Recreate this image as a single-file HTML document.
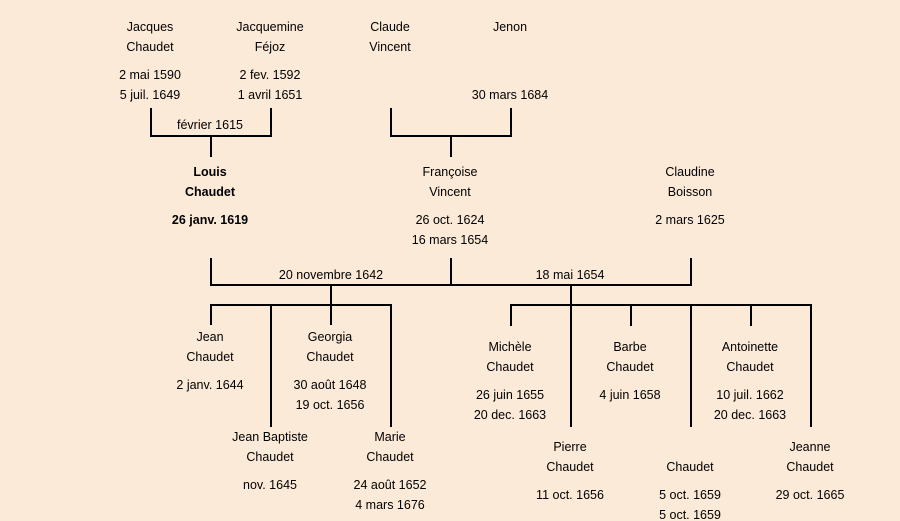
<!DOCTYPE html>
<html><head><meta charset="utf-8"><style>
html,body{margin:0;padding:0;background:#fcead8;}
svg{display:block}
text{font-family:"Liberation Sans",sans-serif;font-size:12.5px;fill:#000;text-anchor:middle;dominant-baseline:central}
.b{font-weight:bold}
line{stroke:#000;stroke-width:2}
</style></head><body>
<svg width="900" height="521" viewBox="0 0 900 521">
<rect width="900" height="521" fill="#fcead8"/>
<!-- lines -->
<line x1="151" y1="108" x2="151" y2="137"/><line x1="150" y1="136" x2="272" y2="136"/><line x1="271" y1="108" x2="271" y2="137"/>
<line x1="211" y1="136" x2="211" y2="157"/>
<line x1="391" y1="108" x2="391" y2="137"/><line x1="390" y1="136" x2="512" y2="136"/><line x1="511" y1="108" x2="511" y2="137"/>
<line x1="451" y1="136" x2="451" y2="157"/>
<line x1="211" y1="258" x2="211" y2="286"/><line x1="451" y1="258" x2="451" y2="286"/><line x1="691" y1="258" x2="691" y2="286"/>
<line x1="210" y1="285" x2="692" y2="285"/>
<line x1="331" y1="285" x2="331" y2="305"/><line x1="210" y1="305" x2="392" y2="305"/>
<line x1="211" y1="305" x2="211" y2="325"/><line x1="271" y1="305" x2="271" y2="427"/><line x1="331" y1="305" x2="331" y2="325"/><line x1="391" y1="305" x2="391" y2="427"/>
<line x1="571" y1="285" x2="571" y2="305"/><line x1="510" y1="305" x2="812" y2="305"/>
<line x1="511" y1="305" x2="511" y2="326"/><line x1="571" y1="305" x2="571" y2="427"/><line x1="631" y1="305" x2="631" y2="326"/><line x1="691" y1="305" x2="691" y2="427"/><line x1="751" y1="305" x2="751" y2="326"/><line x1="811" y1="305" x2="811" y2="427"/>
<!-- text -->
<text x="150" y="27">Jacques</text><text x="150" y="47">Chaudet</text><text x="150" y="75">2 mai 1590</text><text x="150" y="95">5 juil. 1649</text>
<text x="270" y="27">Jacquemine</text><text x="270" y="47">Féjoz</text><text x="270" y="75">2 fev. 1592</text><text x="270" y="95">1 avril 1651</text>
<text x="390" y="27">Claude</text><text x="390" y="47">Vincent</text>
<text x="510" y="27">Jenon</text><text x="510" y="95">30 mars 1684</text>
<text x="210" y="125">février 1615</text>
<text class="b" x="210" y="172">Louis</text><text class="b" x="210" y="192">Chaudet</text><text class="b" x="210" y="220">26 janv. 1619</text>
<text x="450" y="172">Françoise</text><text x="450" y="192">Vincent</text><text x="450" y="220">26 oct. 1624</text><text x="450" y="240">16 mars 1654</text>
<text x="690" y="172">Claudine</text><text x="690" y="192">Boisson</text><text x="690" y="220">2 mars 1625</text>
<text x="331" y="275">20 novembre 1642</text><text x="570" y="275">18 mai 1654</text>
<text x="210" y="337">Jean</text><text x="210" y="357">Chaudet</text><text x="210" y="385">2 janv. 1644</text>
<text x="330" y="337">Georgia</text><text x="330" y="357">Chaudet</text><text x="330" y="385">30 août 1648</text><text x="330" y="405">19 oct. 1656</text>
<text x="270" y="437">Jean Baptiste</text><text x="270" y="457">Chaudet</text><text x="270" y="485">nov. 1645</text>
<text x="390" y="437">Marie</text><text x="390" y="457">Chaudet</text><text x="390" y="485">24 août 1652</text><text x="390" y="505">4 mars 1676</text>
<text x="510" y="347">Michèle</text><text x="510" y="367">Chaudet</text><text x="510" y="395">26 juin 1655</text><text x="510" y="415">20 dec. 1663</text>
<text x="630" y="347">Barbe</text><text x="630" y="367">Chaudet</text><text x="630" y="395">4 juin 1658</text>
<text x="750" y="347">Antoinette</text><text x="750" y="367">Chaudet</text><text x="750" y="395">10 juil. 1662</text><text x="750" y="415">20 dec. 1663</text>
<text x="570" y="447">Pierre</text><text x="570" y="467">Chaudet</text><text x="570" y="495">11 oct. 1656</text>
<text x="690" y="467">Chaudet</text><text x="690" y="495">5 oct. 1659</text><text x="690" y="515">5 oct. 1659</text>
<text x="810" y="447">Jeanne</text><text x="810" y="467">Chaudet</text><text x="810" y="495">29 oct. 1665</text>
</svg>
</body></html>
